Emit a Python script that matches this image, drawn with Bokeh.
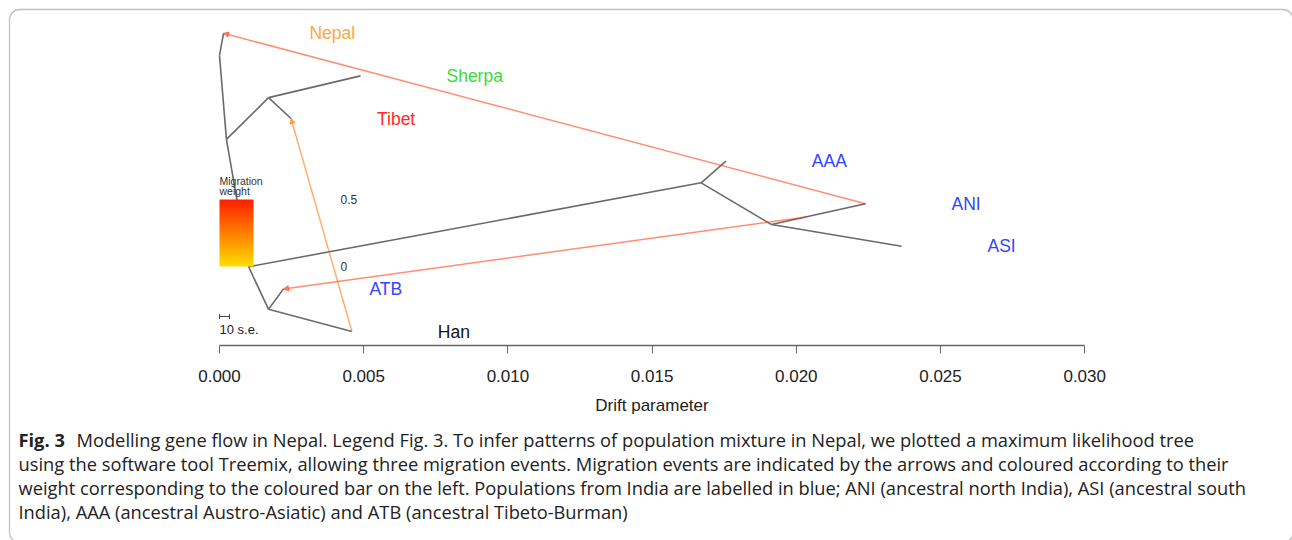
import numpy as np
from bokeh.plotting import figure
from bokeh.models import (Range1d, LinearAxis, FixedTicker, PrintfTickFormatter,
                          BoxAnnotation, Arrow, NormalHead, ColumnDataSource)
from bokeh.core.properties import value
from bokeh.embed import file_html
from bokeh.resources import INLINE

# ---------------- data ----------------
leaf_names = ["Nepal", "Sherpa", "Tibet", "AAA", "ANI", "ASI", "ATB", "Han"]
leaf_drift = [0.00014, 0.00489, 0.00248, 0.01756, 0.02240, 0.02365, 0.00222, 0.00459]
leaf_y = [8, 7, 6, 5, 4, 3, 2, 1]
leaf_colors = ["#FFA640", "#3ADB3A", "#FF2A2A", "#3344FF", "#3344FF", "#3344FF", "#3344FF", "#111111"]

node_names = ["root", "n1", "n_st", "n2", "n_aaa", "n_an", "n_ah"]
node_drift = [0.0, 0.00024, 0.00170, 0.00101, 0.01670, 0.01914, 0.00170]
node_y = [7.48, 5.51, 6.49, 2.52, 4.49, 3.51, 1.52]

edge_parent = ["root", "root", "n1", "n_st", "n_st", "n1", "n2", "n_aaa", "n_aaa", "n_an", "n_an", "n2", "n_ah", "n_ah"]
edge_child = ["Nepal", "n1", "n_st", "Sherpa", "Tibet", "n2", "n_aaa", "AAA", "n_an", "ANI", "ASI", "n_ah", "ATB", "Han"]

# migration events: source (drift, y) -> destination (drift, y), weight
mig_x0 = [0.02240, 0.00459, 0.02035]
mig_y0 = [4.00, 1.00, 3.69]
mig_x1 = [0.00014, 0.00248, 0.00222]
mig_y1 = [8.00, 6.00, 2.00]
mig_weight = [0.45, 0.30, 0.45]

x_ticks = [0.000, 0.005, 0.010, 0.015, 0.020, 0.025, 0.030]
legend_labels = ["0.5", "0"]
legend_values = [0.5, 0.0]

caption_bold = "Fig. 3"
caption_lines = [
    "Modelling gene flow in Nepal. Legend Fig. 3. To infer patterns of population mixture in Nepal, we plotted a maximum likelihood tree",
    "using the software tool Treemix, allowing three migration events. Migration events are indicated by the arrows and coloured according to their",
    "weight corresponding to the coloured bar on the left. Populations from India are labelled in blue; ANI (ancestral north India), ASI (ancestral south",
    "India), AAA (ancestral Austro-Asiatic) and ATB (ancestral Tibeto-Burman)",
]

# ---------------- layout helpers (page pixel -> data) ----------------
W, H = 1292, 540


def px2x(px):
    return (px - 219) / 28840.0


def py2y(py):
    return 1 + (331 - py) / 42.6


def heat_rgb(w):
    # 0 -> yellow, 0.5 -> red
    t = max(0.0, min(1.0, w / 0.5))
    g = int(round(222 - t * (222 - 30)))
    return (255, g, 0)


def heat(w):
    return "#%02x%02x%02x" % heat_rgb(w)


p = figure(width=W, height=H, output_backend="svg", toolbar_location=None,
           x_range=Range1d(px2x(0), px2x(W)), y_range=Range1d(py2y(H), py2y(0)),
           x_axis_type=None, y_axis_type=None, min_border=0)
p.outline_line_color = None
p.xgrid.visible = False
p.ygrid.visible = False
p.background_fill_color = "white"

# tree edges
pos = {}
for n, x, y in zip(leaf_names, leaf_drift, leaf_y):
    pos[n] = (x, y)
for n, x, y in zip(node_names, node_drift, node_y):
    pos[n] = (x, y)
seg = ColumnDataSource(dict(
    x0=[pos[a][0] for a in edge_parent], y0=[pos[a][1] for a in edge_parent],
    x1=[pos[b][0] for b in edge_child], y1=[pos[b][1] for b in edge_child]))
p.segment("x0", "y0", "x1", "y1", source=seg, line_color="#6A6A6A", line_width=1.6)

# migration arrows
for x0, y0, x1, y1, w in zip(mig_x0, mig_y0, mig_x1, mig_y1, mig_weight):
    c = heat(w)
    p.add_layout(Arrow(x_start=x0, y_start=y0, x_end=x1, y_end=y1,
                       line_color=c, line_alpha=0.55, line_width=1.5,
                       end=NormalHead(size=5, fill_color=c, line_color=c, fill_alpha=0.6, line_alpha=0.6)))

# leaf labels
lab = ColumnDataSource(dict(x=[x + 0.00298 for x in leaf_drift], y=leaf_y, t=leaf_names, c=leaf_colors))
p.text("x", "y", text="t", source=lab, text_color="c", text_font=value("Liberation Sans"),
       text_font_size="17.5px", text_baseline="middle", text_align="left")

# migration weight legend (gradient bar as one image)
y_bot, y_top = py2y(266), py2y(199)
nrow = 80
img = np.zeros((nrow, 1), dtype=np.uint32)
view = img.view(dtype=np.uint8).reshape((nrow, 1, 4))
for i in range(nrow):
    r, g, b = heat_rgb(0.5 * (i + 0.5) / nrow)
    view[i, 0, :] = [r, g, b, 255]
p.image_rgba(image=[img], x=px2x(219), y=y_bot, dw=px2x(253) - px2x(219), dh=y_top - y_bot)
p.text([px2x(340)] * 2, [y_bot + (y_top - y_bot) * v / 0.5 for v in legend_values], text=legend_labels,
       text_font=value("Liberation Sans"), text_font_size="12px", text_color="#333333",
       text_baseline="middle", text_align="left")
p.text([px2x(219)] * 2, [py2y(180), py2y(190)], text=["Migration", "weight"],
       text_font=value("Liberation Sans"), text_font_size="10.5px", text_color="#333333",
       text_baseline="middle", text_align="left")

# scale bar (10 s.e.)
sb_y = py2y(316)
p.segment([px2x(219), px2x(219), px2x(229)], [sb_y, sb_y - 0.06, sb_y - 0.06],
          [px2x(229), px2x(219), px2x(229)], [sb_y, sb_y + 0.06, sb_y + 0.06],
          line_color="#444444", line_width=1)
p.text([px2x(219)], [py2y(329)], text=["10 s.e."], text_font=value("Liberation Sans"),
       text_font_size="13px", text_color="#222222", text_baseline="middle", text_align="left")

# x axis (drift parameter) at fixed location
ax = LinearAxis(fixed_location=py2y(345), bounds=(0, 0.03), ticker=FixedTicker(ticks=x_ticks),
                formatter=PrintfTickFormatter(format="%.3f"))
ax.axis_label = "Drift parameter"
ax.axis_label_text_font = "Liberation Sans"
ax.axis_label_text_font_style = "normal"
ax.axis_label_text_font_size = "17px"
ax.axis_label_text_color = "#222222"
ax.axis_label_standoff = 11
ax.major_label_text_font = "Liberation Sans"
ax.major_label_text_font_size = "17px"
ax.major_label_text_color = "#222222"
ax.major_label_standoff = 16
ax.major_tick_out = 8
ax.major_tick_in = 0
ax.minor_tick_out = 0
ax.minor_tick_in = 0
ax.axis_line_color = "#666666"
ax.major_tick_line_color = "#666666"
ax.axis_line_width = 1.3
p.add_layout(ax, "below")

# caption
cap_y = [py2y(439), py2y(463), py2y(487), py2y(511)]
p.text([px2x(18)], [cap_y[0]], text=[caption_bold], text_font=value("Open Sans"),
       text_font_style="bold", text_font_size="18.3px", text_color="#222222",
       text_baseline="middle", text_align="left")
p.text([px2x(76)] + [px2x(18)] * 3, cap_y, text=caption_lines, text_font=value("Open Sans"),
       text_font_size="18.3px", text_color="#222222", text_baseline="middle", text_align="left")

# rounded frame (right and bottom edges run just past the picture)
p.add_layout(BoxAnnotation(left=px2x(9), right=px2x(1292.5), top=py2y(9), bottom=py2y(542),
                           fill_alpha=0, line_color="#333333", line_width=1.3, border_radius=10))

open("out.html", "w").write(file_html(p, INLINE))
